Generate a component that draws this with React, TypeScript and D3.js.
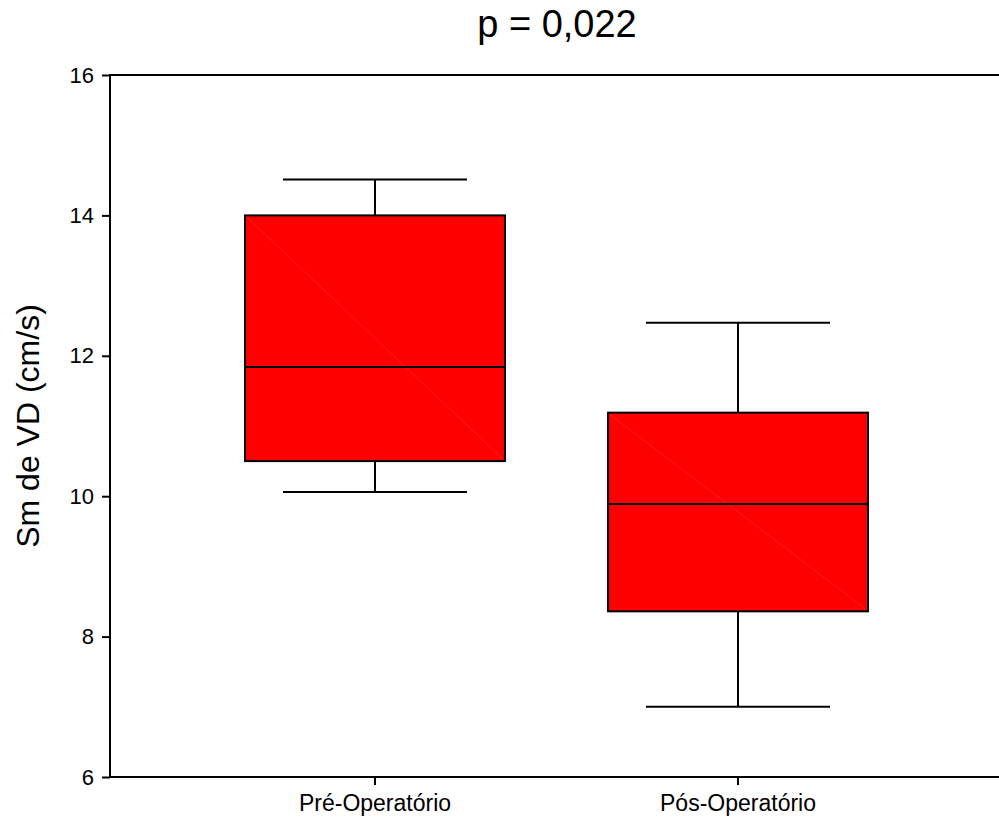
import * as d3 from 'd3';
import React, { useRef, useEffect } from 'react';

const categories = ['Pré-Operatório', 'Pós-Operatório'];
const whiskerLow = [10.06, 7.0];
const q1 = [10.5, 8.36];
const median = [11.84, 9.89];
const q3 = [14.0, 11.19];
const whiskerHigh = [14.51, 12.47];
const yTicks = [6, 8, 10, 12, 14, 16];

const W = 999;
const H = 821;
const font = 'Arial, "Liberation Sans", Helvetica, sans-serif';

function BoxPlot() {
  const ref = useRef(null);

  useEffect(() => {
    document.body.style.margin = '0';
    document.body.style.overflow = 'hidden';
    const svg = d3.select(ref.current);
    svg.selectAll('*').remove();

    const left = 110;
    const right = 1003;
    const top = 75;
    const bottom = 777;

    const x = d3
      .scaleBand()
      .domain(categories)
      .range([left, right])
      .paddingInner(0.284)
      .paddingOuter(0.372);

    const y = d3.scaleLinear().domain([6, 16]).range([bottom, top]);

    const data = categories.map((c, i) => ({
      c,
      lo: whiskerLow[i],
      q1: q1[i],
      med: median[i],
      q3: q3[i],
      hi: whiskerHigh[i],
    }));

    const g = svg.append('g');

    // whiskers
    data.forEach(d => {
      const cx = x(d.c) + x.bandwidth() / 2;
      const capHalf = x.bandwidth() * 0.354;
      const wg = g.append('g').attr('stroke', '#000').attr('stroke-width', 2);
      wg.append('line').attr('x1', cx).attr('x2', cx).attr('y1', y(d.hi)).attr('y2', y(d.q3));
      wg.append('line').attr('x1', cx).attr('x2', cx).attr('y1', y(d.q1)).attr('y2', y(d.lo));
      wg.append('line').attr('x1', cx - capHalf).attr('x2', cx + capHalf).attr('y1', y(d.hi)).attr('y2', y(d.hi));
      wg.append('line').attr('x1', cx - capHalf).attr('x2', cx + capHalf).attr('y1', y(d.lo)).attr('y2', y(d.lo));
    });

    // boxes
    g.selectAll('rect.box')
      .data(data)
      .enter()
      .append('rect')
      .attr('class', 'box')
      .attr('x', d => x(d.c))
      .attr('y', d => y(d.q3))
      .attr('width', x.bandwidth())
      .attr('height', d => y(d.q1) - y(d.q3))
      .attr('fill', '#ff0000')
      .attr('stroke', '#000')
      .attr('stroke-width', 2);

    // faint diagonal seam
    g.selectAll('line.diag')
      .data(data)
      .enter()
      .append('line')
      .attr('x1', d => x(d.c) + 2)
      .attr('y1', d => y(d.q3) + 2)
      .attr('x2', d => x(d.c) + x.bandwidth() - 2)
      .attr('y2', d => y(d.q1) - 2)
      .attr('stroke', '#ff4d4d')
      .attr('stroke-width', 0.6)
      .attr('opacity', 0.6);

    // medians
    g.selectAll('line.med')
      .data(data)
      .enter()
      .append('line')
      .attr('x1', d => x(d.c))
      .attr('x2', d => x(d.c) + x.bandwidth())
      .attr('y1', d => y(d.med))
      .attr('y2', d => y(d.med))
      .attr('stroke', '#000')
      .attr('stroke-width', 2);

    // frame: top, left, bottom (right side is outside the picture)
    const path = d3.path();
    path.moveTo(W, top);
    path.lineTo(left, top);
    path.lineTo(left, bottom);
    path.lineTo(W, bottom);
    svg
      .append('path')
      .attr('d', path.toString())
      .attr('fill', 'none')
      .attr('stroke', '#000')
      .attr('stroke-width', 2);

    // y axis
    const yAxis = svg
      .append('g')
      .attr('transform', `translate(${left},0)`)
      .call(d3.axisLeft(y).tickValues(yTicks).tickSize(8).tickPadding(8).tickSizeOuter(0));
    yAxis.select('.domain').remove();
    yAxis.selectAll('line').attr('stroke-width', 2);
    yAxis.selectAll('text').attr('font-size', 22).attr('font-family', font).attr('fill', '#000');

    // x axis
    const xAxis = svg
      .append('g')
      .attr('transform', `translate(0,${bottom})`)
      .call(d3.axisBottom(x).tickSize(8).tickPadding(10).tickSizeOuter(0));
    xAxis.select('.domain').remove();
    xAxis.selectAll('line').attr('stroke-width', 2);
    xAxis.selectAll('text').attr('font-size', 23).attr('font-family', font).attr('fill', '#000');

    // title
    svg
      .append('text')
      .attr('x', 557)
      .attr('y', 37)
      .attr('text-anchor', 'middle')
      .attr('font-size', 38)
      .attr('font-family', font)
      .text('p = 0,022');

    // y label
    svg
      .append('text')
      .attr('transform', `translate(39,426) rotate(-90)`)
      .attr('text-anchor', 'middle')
      .attr('font-size', 32)
      .attr('font-family', font)
      .text('Sm de VD (cm/s)');
  }, []);

  return <svg ref={ref} width={W} height={H} style={{ display: 'block', background: '#fff' }} />;
}

export default function App() {
  return <BoxPlot />;
}
